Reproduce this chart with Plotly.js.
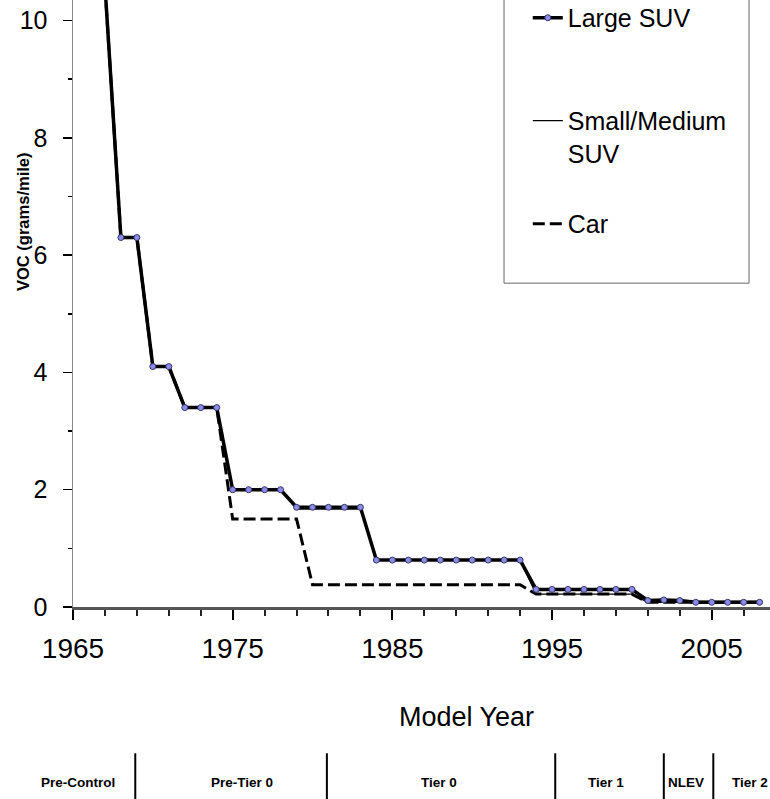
<!DOCTYPE html>
<html>
<head>
<meta charset="utf-8">
<script src="https://cdn.plot.ly/plotly-3.0.1.min.js"></script>
<style>html,body{margin:0;padding:0;background:#fff;}#chart{width:770px;height:799px;}</style>
</head>
<body>
<div id="chart"></div>
<script>
// ---- data ----
var years = [1965,1966,1967,1968,1969,1970,1971,1972,1973,1974,1975,1976,1977,1978,1979,1980,1981,1982,1983,1984,1985,1986,1987,1988,1989,1990,1991,1992,1993,1994,1995,1996,1997,1998,1999,2000,2001,2002,2003,2004,2005,2006,2007,2008];
var largeSUV = [10.6,10.6,10.6,6.3,6.3,4.1,4.1,3.4,3.4,3.4,2.0,2.0,2.0,2.0,1.7,1.7,1.7,1.7,1.7,0.8,0.8,0.8,0.8,0.8,0.8,0.8,0.8,0.8,0.8,0.3,0.3,0.3,0.3,0.3,0.3,0.3,0.11,0.12,0.11,0.08,0.08,0.08,0.08,0.08];
var smallMedSUV = [10.6,10.6,10.6,6.3,6.3,4.1,4.1,3.4,3.4,3.4,2.0,2.0,2.0,2.0,1.67,1.67,1.67,1.67,1.67,0.8,0.8,0.8,0.8,0.8,0.8,0.8,0.8,0.8,0.8,0.22,0.22,0.22,0.22,0.22,0.22,0.22,0.08,0.08,0.08,0.08,0.08,0.08,0.08,0.08];
var car = [10.6,10.6,10.6,6.3,6.3,4.1,4.1,3.4,3.4,3.4,1.5,1.5,1.5,1.5,1.5,0.38,0.38,0.38,0.38,0.38,0.38,0.38,0.38,0.38,0.38,0.38,0.38,0.38,0.38,0.22,0.22,0.22,0.22,0.22,0.22,0.22,0.08,0.08,0.08,0.08,0.08,0.08,0.08,0.08];
var seriesNames = ["Large SUV<br> ", "Small/Medium<br>SUV", "Car"];
var xTickVals = [1965,1975,1985,1995,2005];
var yTickVals = [0,2,4,6,8,10];
var tierNames = ["Pre-Control","Pre-Tier 0","Tier 0","Tier 1","NLEV","Tier 2"];
var tierCenters = [1965.3,1975.6,1987.9,1998.4,2003.4,2007.4];
var tierBounds = [1968.9,1980.9,1995.2,2002.0,2005.1];

var FONT = "Liberation Sans, Arial, sans-serif";

var traces = [
  {x: years, y: car, name: seriesNames[2], mode: "lines", legendgroup: "c", legendrank: 3,
   line: {color: "#000", width: 3, dash: "12px,5px"}},
  {x: years, y: smallMedSUV, name: seriesNames[1], mode: "lines", legendgroup: "b", legendrank: 2,
   line: {color: "#000", width: 1.3}},
  {x: years, y: largeSUV, name: seriesNames[0], mode: "lines+markers", legendgroup: "a", legendrank: 1,
   line: {color: "#000", width: 3.5},
   marker: {size: 6, color: "#8c8ce8", line: {color: "#33336b", width: 1}}}
];

var shapes = [];
tierBounds.forEach(function(b){
  shapes.push({type: "line", xref: "x", yref: "paper", x0: b, x1: b, y0: -0.241, y1: -0.32,
               line: {color: "#000", width: 2}});
});
// legend frame
shapes.push({type: "rect", xref: "paper", yref: "paper", x0: 0.6184, x1: 0.9699, y0: 0.5335, y1: 1.05,
             line: {color: "#666", width: 1}});

var annotations = [
  {text: "<b>VOC (grams/mile)</b>", xref: "paper", yref: "paper", x: -0.072, y: 0.634, textangle: -90,
   showarrow: false, font: {family: FONT, size: 16.5, color: "#000"}, xanchor: "center", yanchor: "middle"},
  {text: "Model Year", xref: "paper", yref: "paper", x: 0.564, y: -0.182, showarrow: false,
   font: {family: FONT, size: 27, color: "#000"}, xanchor: "center", yanchor: "middle"}
];
tierNames.forEach(function(t, i){
  annotations.push({text: "<b>" + t + "</b>", xref: "x", yref: "paper", x: tierCenters[i], y: -0.289,
    showarrow: false, font: {family: FONT, size: 13.5, color: "#000"}, xanchor: "center", yanchor: "middle"});
});

var layout = {
  width: 770, height: 799,
  margin: {l: 73, r: 0, t: 0, b: 192, autoexpand: false},
  paper_bgcolor: "#fff", plot_bgcolor: "#fff",
  font: {family: FONT, color: "#000"},
  showlegend: true,
  legend: {x: 0.6525, y: 1.0083, xanchor: "left", yanchor: "top", bgcolor: "rgba(0,0,0,0)",
           borderwidth: 0, font: {family: FONT, size: 25, color: "#000"},
           traceorder: "grouped", tracegroupgap: 35, valign: "top"},
  xaxis: {range: [1965, 2008.65], tickmode: "array", tickvals: xTickVals, ticktext: xTickVals.map(String),
          ticks: "outside", ticklen: 10, tickwidth: 2, tickcolor: "#000", ticklabelstandoff: 4,
          minor: {tick0: 1965, dtick: 2, ticks: "outside", ticklen: 6, tickwidth: 2, tickcolor: "#222", showgrid: false},
          showline: true, linecolor: "#555", linewidth: 3, showgrid: false, zeroline: false,
          tickfont: {family: FONT, size: 28, color: "#000"}},
  xaxis2: {range: [1965, 2008.65], overlaying: "x", anchor: "y", side: "bottom",
           tickmode: "array", tickvals: xTickVals, ticks: "inside", ticklen: 9, tickwidth: 1.5, tickcolor: "#000",
           showticklabels: false, showline: false, showgrid: false, zeroline: false},
  yaxis: {range: [0, 10.35], tickmode: "array", tickvals: yTickVals, ticktext: yTickVals.map(String),
          ticks: "outside", ticklen: 9, tickwidth: 1.5, tickcolor: "#000", ticklabelstandoff: 10,
          minor: {tick0: 0, dtick: 1, ticks: "outside", ticklen: 4, tickwidth: 1.5, tickcolor: "#000", showgrid: false},
          showline: true, linecolor: "#888", linewidth: 1.5, showgrid: false, zeroline: false,
          tickfont: {family: FONT, size: 25, color: "#000"}},
  shapes: shapes,
  annotations: annotations
};

Plotly.newPlot("chart", traces, layout, {staticPlot: true, displayModeBar: false});
</script>
</body>
</html>
